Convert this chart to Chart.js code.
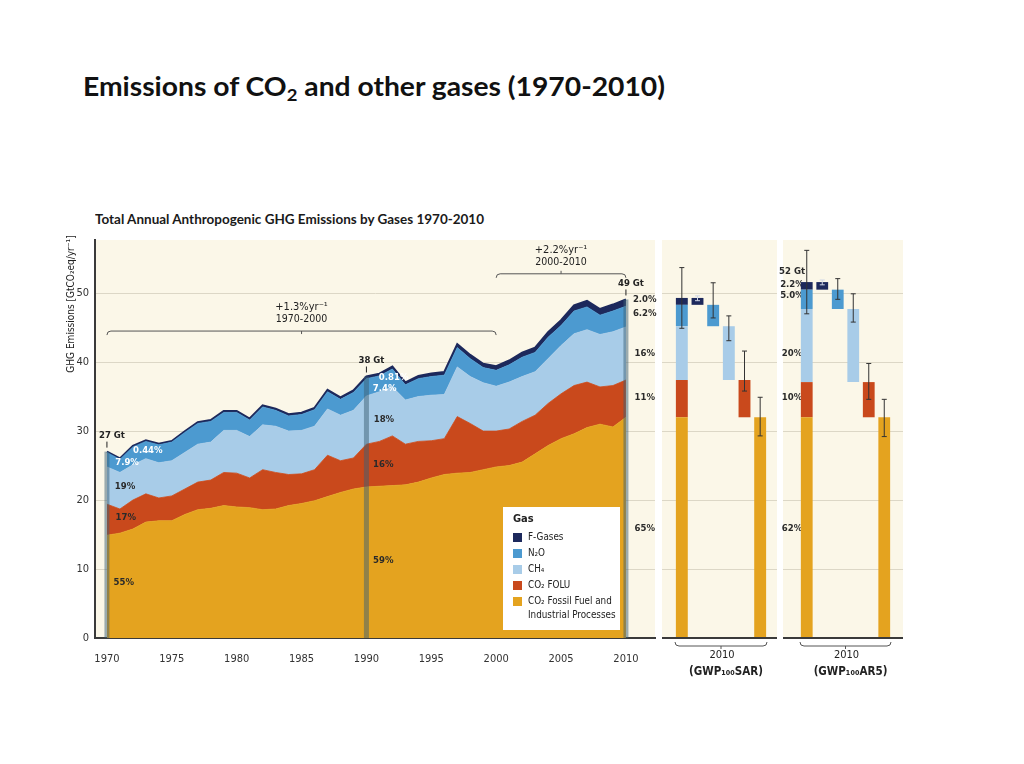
<!DOCTYPE html>
<html><head><meta charset="utf-8">
<script src="https://cdn.jsdelivr.net/npm/chart.js@4.4.1/dist/chart.umd.min.js"></script>
<style>
html,body{margin:0;padding:0;background:#fff;width:1024px;height:764px;overflow:hidden;}
canvas{position:absolute;left:0;top:0;}
#title{position:absolute;left:83px;top:70px;font-family:Lato,'Open Sans',sans-serif;font-weight:bold;font-size:26px;line-height:32px;color:#111;white-space:nowrap;transform-origin:0 0;}
#title sub{font-size:17px;line-height:0;vertical-align:-5px;}
#subtitle{position:absolute;left:95px;top:211px;font-family:Lato,'Open Sans',sans-serif;font-weight:bold;font-size:13px;line-height:17px;color:#1a1a1a;white-space:nowrap;transform-origin:0 0;}
</style></head>
<body>
<div id="title">Emissions of CO<sub>2</sub> and other gases (1970-2010)</div>
<div id="subtitle">Total Annual Anthropogenic GHG Emissions by Gases 1970-2010</div>
<canvas id="main" width="1024" height="764"></canvas>
<canvas id="sar" width="1024" height="764"></canvas>
<canvas id="ar5" width="1024" height="764"></canvas>
<script>
// ---------- data ----------
const years = [1970,1971,1972,1973,1974,1975,1976,1977,1978,1979,1980,1981,1982,1983,1984,1985,1986,1987,1988,1989,1990,1991,1992,1993,1994,1995,1996,1997,1998,1999,2000,2001,2002,2003,2004,2005,2006,2007,2008,2009,2010];
const co2FFI  = [14.9,15.2,15.8,16.8,17.0,17.0,17.9,18.6,18.8,19.2,19.0,18.9,18.6,18.7,19.2,19.5,19.9,20.5,21.1,21.6,21.9,22.0,22.1,22.2,22.6,23.2,23.7,23.9,24.0,24.4,24.8,25.0,25.5,26.7,27.9,28.9,29.6,30.5,31.0,30.6,32.0];
const co2FOLU = [4.5,3.5,4.2,4.1,3.3,3.6,3.7,4.0,4.1,4.8,4.9,4.3,5.8,5.3,4.5,4.3,4.5,6.0,4.6,4.5,6.2,6.5,7.2,5.9,5.9,5.4,5.2,8.2,7.1,5.6,5.2,5.3,5.9,5.6,6.1,6.5,7.0,6.6,5.4,6.0,5.4];
const ch4     = [5.4,5.3,5.1,5.1,5.1,5.1,5.3,5.5,5.5,6.1,6.2,6.0,6.5,6.7,6.3,6.3,6.3,6.7,6.6,6.9,7.0,7.2,7.1,6.4,6.5,6.6,6.4,7.2,6.8,7.0,6.5,6.8,6.5,6.3,6.5,7.0,7.5,7.6,7.6,7.8,7.7];
const n2o     = [2.1,1.9,2.6,2.5,2.6,2.7,2.9,3.0,3.0,2.6,2.6,2.4,2.6,2.3,2.2,2.3,2.4,2.5,2.3,2.6,2.5,2.3,2.6,2.2,2.6,2.7,2.8,2.8,2.6,2.2,2.3,2.5,2.8,2.8,3.1,2.9,3.3,3.3,2.8,3.0,3.0];
const fGases  = [0.12,0.13,0.14,0.15,0.16,0.17,0.18,0.19,0.20,0.21,0.22,0.22,0.23,0.24,0.25,0.26,0.27,0.28,0.29,0.30,0.31,0.33,0.35,0.37,0.40,0.43,0.46,0.50,0.54,0.56,0.60,0.63,0.66,0.70,0.74,0.78,0.82,0.87,0.90,0.94,0.98];

const xTickYears  = [1970,1975,1980,1985,1990,1995,2000,2005,2010];
const yTickValues = [0,10,20,30,40,50];

const gasLabels = ['CO₂ Fossil Fuel and Industrial Processes','CO₂ FOLU','CH₄','N₂O','F-Gases'];
const gasColors = ['#E4A31F','#C9491C','#A8CCE8','#4C9AD0','#1D295C'];

const panelCategories = ['Total','F-Gases','N₂O','CH₄','CO₂ FOLU','CO₂ FFI'];
const sarShares = [32.0, 5.4, 7.8, 3.1, 1.0];   // FFI, FOLU, CH4, N2O, F-gases (GWP100 SAR)
const ar5Shares = [32.0, 5.1, 10.6, 2.8, 1.1];  // GWP100 AR5
const sarErrors = [[44.9,53.7],[48.9,49.6],[46.4,51.5],[43.1,46.7],[35.8,41.6],[29.3,34.9]];
const ar5Errors = [[47.0,56.2],[51.2,51.9],[49.1,52.1],[45.8,49.9],[34.6,39.8],[29.2,34.6]];

const highlightYears = [1970,1990,2010];
const highlightLabels = ['27 Gt','38 Gt','49 Gt'];

// ---------- styles ----------
const FAM = "'Liberation Sans Narrow','DejaVu Sans Condensed',Roboto,sans-serif";
const BG = '#FBF7E8';
const GRID = '#DCD7C6';
const AXIS = '#3a3a3a';
const Y_MAX = 57.7;

function drawText(ctx, s, x, y, o = {}) {
  ctx.save();
  ctx.font = `${o.weight || 'normal'} ${o.size || 10}px ${FAM}`;
  ctx.fillStyle = o.color || '#222';
  ctx.textAlign = o.align || 'center';
  ctx.textBaseline = 'middle';
  ctx.fillText(s, x, y);
  ctx.restore();
}
// dir = 1: ends bend down; dir = -1: ends bend up
function bracket(ctx, x1, x2, y, dir, tickDir) {
  ctx.save();
  ctx.strokeStyle = '#555'; ctx.lineWidth = 1;
  ctx.beginPath();
  ctx.moveTo(x1, y + 4 * dir); ctx.quadraticCurveTo(x1, y, x1 + 4, y);
  ctx.lineTo(x2 - 4, y); ctx.quadraticCurveTo(x2, y, x2, y + 4 * dir);
  const xm = (x1 + x2) / 2;
  ctx.moveTo(xm, y); ctx.lineTo(xm, y + 3 * tickDir);
  ctx.stroke();
  ctx.restore();
}

// ---------- main chart ----------
const series = [co2FFI, co2FOLU, ch4, n2o, fGases];
const totals = years.map((_, i) => series.reduce((s, a) => s + a[i], 0));

const mainLabels = [
  {t:'0.44%', x:1973.15, y:27.2, c:'#fff'},
  {t:'7.9%',  x:1971.55, y:25.5, c:'#fff'},
  {t:'19%',   x:1971.4,  y:22.0},
  {t:'17%',   x:1971.45, y:17.4},
  {t:'55%',   x:1971.3,  y:8.0},
  {t:'0.81%', x:1992.1,  y:37.8, c:'#fff'},
  {t:'7.4%',  x:1991.4,  y:36.1, c:'#fff'},
  {t:'18%',   x:1991.35, y:31.6},
  {t:'16%',   x:1991.3,  y:25.1},
  {t:'59%',   x:1991.3,  y:11.3},
  {t:'2.0%',  x:2011.45, y:49.0},
  {t:'6.2%',  x:2011.45, y:47.0},
  {t:'16%',   x:2011.45, y:41.3},
  {t:'11%',   x:2011.45, y:34.9},
  {t:'65%',   x:2011.45, y:15.9}
];
const growth = [
  {from:1970, to:2000, y:44.5, l1:'+1.3%yr⁻¹', l2:'1970-2000', tick:1},
  {from:2000, to:2010, y:52.8, l1:'+2.2%yr⁻¹', l2:'2000-2010', tick:-1}
];

const mainPlugin = {
  id: 'mainDecor',
  beforeDraw(chart) {
    const {ctx, chartArea: a} = chart;
    ctx.save(); ctx.fillStyle = BG;
    ctx.fillRect(a.left, a.top, a.right - a.left, a.bottom - a.top);
    ctx.restore();
  },
  afterDatasetsDraw(chart) {
    const {ctx, chartArea: a, scales: {x, y}} = chart;
    // highlight strips
    highlightYears.forEach((yr, k) => {
      const i = years.indexOf(yr);
      const px = x.getPixelForValue(yr);
      const top = y.getPixelForValue(totals[i]);
      ctx.save();
      ctx.fillStyle = 'rgba(60,95,115,0.5)';
      ctx.fillRect(px - 2.5, top, 5, y.getPixelForValue(0) - top);
      ctx.strokeStyle = '#222'; ctx.lineWidth = 1;
      ctx.beginPath(); ctx.moveTo(px, top - 10); ctx.lineTo(px, top - 4); ctx.stroke();
      ctx.restore();
      drawText(ctx, highlightLabels[k], px + 5, top - 16, {size: 9.5, weight: 'bold', color: '#222'});
    });
    mainLabels.forEach(l => drawText(ctx, l.t, x.getPixelForValue(l.x), y.getPixelForValue(l.y), {size: 9.5, weight: 'bold', color: l.c || '#2a2a2a'}));
    growth.forEach(g => {
      const x1 = x.getPixelForValue(g.from), x2 = x.getPixelForValue(g.to), py = y.getPixelForValue(g.y);
      bracket(ctx, x1, x2, py, 1, g.tick);
      const xm = (x1 + x2) / 2;
      drawText(ctx, g.l1, xm, py - 24, {size: 11, color: '#222'});
      drawText(ctx, g.l2, xm, py - 12, {size: 10.5, color: '#222'});
    });
    // legend
    const L = 503, T = 507, W = 117, H = 123;
    ctx.save();
    ctx.fillStyle = '#fff'; ctx.fillRect(L, T, W, H);
    ctx.restore();
    drawText(ctx, 'Gas', L + 10, T + 12, {size: 11, weight: 'bold', align: 'left', color: '#222'});
    const order = [4, 3, 2, 1, 0];
    const rows = [30, 46, 62, 78, 94];
    const names = ['F-Gases', 'N₂O', 'CH₄', 'CO₂ FOLU', 'CO₂ Fossil Fuel and'];
    order.forEach((g, r) => {
      ctx.save(); ctx.fillStyle = gasColors[g];
      ctx.fillRect(L + 10, T + rows[r] - 4, 9, 9); ctx.restore();
      drawText(ctx, names[r], L + 25, T + rows[r], {size: 9.8, align: 'left', color: '#222'});
    });
    drawText(ctx, 'Industrial Processes', L + 25, T + 108, {size: 9.8, align: 'left', color: '#222'});
    // y axis title
    ctx.save();
    ctx.translate(71, a.top + 64);
    ctx.rotate(-Math.PI / 2);
    drawText(ctx, 'GHG Emissions [GtCO₂eq/yr⁻¹]', 0, 0, {size: 10, color: '#222'});
    ctx.restore();
  }
};

new Chart(document.getElementById('main'), {
  type: 'line',
  data: {
    datasets: series.map((arr, g) => ({
      label: gasLabels[g],
      data: years.map((yr, i) => ({x: yr, y: arr[i]})),
      backgroundColor: gasColors[g],
      borderColor: gasColors[g],
      borderWidth: g === 4 ? 2 : 0.8,
      fill: g === 0 ? 'origin' : '-1',
      pointRadius: 0,
      tension: 0
    }))
  },
  options: {
    responsive: false, animation: false,
    layout: {padding: {left: 0, top: 240, right: 369, bottom: 0}},
    plugins: {legend: {display: false}, tooltip: {enabled: false}},
    scales: {
      x: {
        type: 'linear', min: 1969.08, max: 2012.24,
        afterBuildTicks: s => { s.ticks = xTickYears.map(v => ({value: v})); },
        afterFit: s => { s.height = 126; },
        grid: {display: false},
        border: {display: true, color: AXIS, width: 2},
        ticks: {padding: 7, color: '#333', font: {family: FAM, size: 11}, callback: v => String(v), maxRotation: 0}
      },
      y: {
        stacked: true, min: 0, max: Y_MAX,
        afterBuildTicks: s => { s.ticks = yTickValues.map(v => ({value: v})); },
        afterFit: s => { s.width = 95; },
        grid: {color: GRID, lineWidth: 1, drawTicks: false},
        border: {display: true, color: AXIS, width: 2},
        ticks: {padding: 6, color: '#333', font: {family: FAM, size: 11}}
      }
    }
  },
  plugins: [mainPlugin]
});

// ---------- side panels ----------
function panelDatasets(shares) {
  let base = 0;
  return shares.map((v, g) => {
    const data = panelCategories.map(() => null);
    const seg = [base, base + v];
    data[0] = seg;
    data[panelCategories.length - 1 - g] = seg;
    base += v;
    return {label: gasLabels[g], data, backgroundColor: gasColors[g], grouped: false,
            barPercentage: 0.76, categoryPercentage: 1, borderWidth: 0};
  });
}
function panelPlugin(cfg) {
  return {
    id: 'panel' + cfg.name,
    beforeDraw(chart) {
      const {ctx, chartArea: a, scales: {y}} = chart;
      ctx.save();
      ctx.fillStyle = BG;
      ctx.fillRect(a.left - cfg.padL, a.top, a.right - a.left + cfg.padL + cfg.padR, a.bottom - a.top);
      ctx.strokeStyle = GRID; ctx.lineWidth = 1;
      yTickValues.slice(1).forEach(v => {
        const py = Math.round(y.getPixelForValue(v)) + 0.5;
        ctx.beginPath(); ctx.moveTo(a.left - cfg.padL, py); ctx.lineTo(a.right + cfg.padR, py); ctx.stroke();
      });
      ctx.restore();
    },
    beforeDatasetsDraw(chart) {
      const {ctx, chartArea: a, scales: {y}} = chart;
      (cfg.labels || []).forEach(l => drawText(ctx, l.t, a.left - 7, y.getPixelForValue(l.y), {size: 9.5, weight: 'bold', color: '#2a2a2a'}));
    },
    afterDatasetsDraw(chart) {
      const {ctx, chartArea: a, scales: {x, y}} = chart;
      ctx.save();
      ctx.lineWidth = 1;
      cfg.errors.forEach((e, i) => {
        const px = x.getPixelForValue(i);
        const y1 = y.getPixelForValue(e[0]), y2 = y.getPixelForValue(e[1]);
        ctx.strokeStyle = i === 1 ? '#cfd6e6' : '#333';
        ctx.beginPath();
        ctx.moveTo(px, y1); ctx.lineTo(px, y2);
        ctx.moveTo(px - 2.5, y1); ctx.lineTo(px + 2.5, y1);
        ctx.moveTo(px - 2.5, y2); ctx.lineTo(px + 2.5, y2);
        ctx.stroke();
      });
      ctx.strokeStyle = AXIS; ctx.lineWidth = 2;
      const by = y.getPixelForValue(0);
      ctx.beginPath(); ctx.moveTo(a.left - cfg.padL, by); ctx.lineTo(a.right + cfg.padR, by); ctx.stroke();
      ctx.restore();
      bracket(ctx, a.left + 1, a.right - 1, by + 8, -1, 1);
      const cx = (a.left + a.right) / 2;
      drawText(ctx, '2010', cx + 1, by + 17, {size: 11, color: '#222'});
      drawText(ctx, cfg.caption, cx + 5, by + 34, {size: 11.5, weight: 'bold', color: '#222'});
    }
  };
}
function makePanel(id, shares, errors, cfg) {
  new Chart(document.getElementById(id), {
    type: 'bar',
    data: {labels: panelCategories, datasets: panelDatasets(shares)},
    options: {
      responsive: false, animation: false,
      layout: {padding: {left: cfg.left, right: 1024 - cfg.right, top: 240, bottom: 126}},
      plugins: {legend: {display: false}, tooltip: {enabled: false}},
      scales: {
        x: {display: false},
        y: {display: false, min: 0, max: Y_MAX}
      }
    },
    plugins: [panelPlugin(Object.assign({errors}, cfg))]
  });
}
makePanel('sar', sarShares, sarErrors, {name: 'sar', left: 674, right: 768, padL: 12, padR: 9, caption: '(GWP₁₀₀SAR)'});
makePanel('ar5', ar5Shares, ar5Errors, {name: 'ar5', left: 799, right: 892, padL: 16, padR: 11, caption: '(GWP₁₀₀AR5)',
  labels: [{t:'52 Gt', y:53.2}, {t:'2.2%', y:51.2}, {t:'5.0%', y:49.6}, {t:'20%', y:41.3}, {t:'10%', y:34.9}, {t:'62%', y:15.9}]});

// ---------- fit title widths ----------
function fitWidth(id, w) {
  const el = document.getElementById(id);
  const nat = el.getBoundingClientRect().width;
  el.style.transform = `scaleX(${w / nat})`;
}
fitWidth('title', 582);
fitWidth('subtitle', 389);
</script>
</body></html>
